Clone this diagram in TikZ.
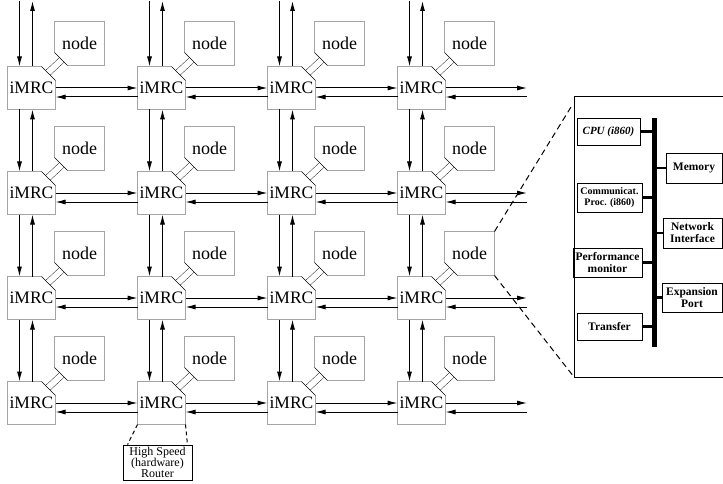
\documentclass[tikz,border=0pt]{standalone}
\usepackage{fontspec}
\setmainfont{Liberation Serif}
\usetikzlibrary{arrows.meta, backgrounds}

\begin{document}
\begin{tikzpicture}[x=1pt, y=-1pt, line width=1pt,
    >={Latex[length=10pt, width=5pt]},
    router/.style={minimum width=47, minimum height=42, inner sep=0, font=\fontsize{17.5}{17.5}\selectfont},
    cpunode/.style={minimum width=49, minimum height=43, inner sep=0, font=\fontsize{18}{18}\selectfont},
    pipe/.style={double, double distance=6pt},
    unit/.style={draw, line width=.9pt, inner sep=0, align=center, font=\fontsize{11.5}{12}\selectfont\bfseries},
    stub/.style={line width=2.5pt},
    zoom/.style={dash pattern=on 6pt off 4pt}]
    \useasboundingbox (0,0) rectangle (723,484);
    \coordinate (top) at (0,1);
    \coordinate (rim) at (527,0);

    % Routers and their nodes
    \foreach \r in {0,...,3} {
        \foreach \c in {0,...,3} {
            \node[router] (r\r\c) at ({31.5+130*\c}, {88+105*\r}) {iMRC};
            \node[cpunode] (n\r\c) at ({79.5+130*\c}, {43.5+105*\r}) {node};
        }
    }
    \begin{scope}[on background layer]
        \foreach \r in {0,...,3} \foreach \c in {0,...,3} \draw[pipe] (r\r\c.center) -- (n\r\c.center);
    \end{scope}
    \begin{scope}[on background layer]
        \foreach \r in {0,...,3} {
            \foreach \c in {0,...,3} {
                \filldraw[fill=white] (r\r\c.north west) -- ([xshift=-14]r\r\c.north east) -- ([yshift=-14]r\r\c.north east)
                    -- (r\r\c.south east) -- (r\r\c.south west) -- cycle;
                \filldraw[fill=white] (n\r\c.north west) -- (n\r\c.north east) -- (n\r\c.south east)
                    -- ([xshift=13]n\r\c.south west) -- ([yshift=13]n\r\c.south west) -- cycle;
            }
        }
    \end{scope}

    % Links
    \foreach \c in {0,...,3} {
        \draw[->] ([xshift=-12]r0\c.north |- top) -- ([xshift=-12]r0\c.north);
        \draw[->] ([xshift=1]r0\c.north) -- ([xshift=1]r0\c.north |- top);
        \foreach \r [evaluate=\r as \s using int(\r+1)] in {0,1,2} {
            \draw[->] ([xshift=-12]r\r\c.south) -- ([xshift=-12]r\s\c.north);
            \draw[->] ([xshift=1]r\s\c.north) -- ([xshift=1]r\r\c.south);
        }
    }
    \foreach \r in {0,...,3} {
        \foreach \c [evaluate=\c as \d using int(\c+1)] in {0,1,2} {
            \draw[->] (r\r\c.east) -- (r\r\d.west);
            \draw[->] ([yshift=-9]r\r\d.west) -- ([yshift=-9]r\r\c.east);
        }
        \draw[->] (r\r3.east) -- (r\r3.east -| rim);
        \draw[->] ([yshift=-9]r\r3.east -| rim) -- ([yshift=-9]r\r3.east);
    }

    % Router label
    \node[draw, line width=.9pt, minimum width=69, minimum height=35, inner sep=0, align=center,
        font=\fontsize{12}{11}\selectfont] (hsr) at (157.5,462.5) {High Speed\\(hardware)\\Router};
    \draw[dash pattern=on 4pt off 3pt] (r31.south west) -- ([xshift=5]hsr.north west);
    \draw[dash pattern=on 4pt off 3pt] (r31.south east) -- ([xshift=-5]hsr.north east);

    % Node detail
    \coordinate (pnw) at (574,97);
    \coordinate (psw) at (574,377);
    \coordinate (tip) at (571,107);
    \draw (723,97) -- (pnw) -- (psw) -- (723,377);
    \draw[zoom] (n23.north east) -- (tip);
    \draw[zoom] (n23.south east) -- (psw);

    \node[unit, minimum width=63, minimum height=27, font=\fontsize{11}{12}\selectfont\bfseries\itshape] (cpu) at (608.5,131.5) {CPU (i860)};
    \node[unit, minimum width=65, minimum height=29, font=\fontsize{10}{11}\selectfont\bfseries] (comm) at (609.5,197.5) {Communicat.\\Proc. (i860)};
    \node[unit, minimum width=69, minimum height=29] (perf) at (607.5,262.5) {Performance\\monitor};
    \node[unit, minimum width=65, minimum height=27] (xfer) at (609.5,326.5) {Transfer};
    \node[unit, minimum width=56, minimum height=30] (mem) at (694,168) {Memory};
    \node[unit, minimum width=59, minimum height=30] (net) at (692.5,233) {Network\\Interface};
    \node[unit, minimum width=60, minimum height=29] (port) at (692,297.5) {Expansion\\Port};

    % Bus
    \coordinate (bustop) at (654.5,118);
    \coordinate (busbot) at (654.5,347);
    \draw[line width=5pt] (bustop) -- (busbot);
    \foreach \u in {cpu, comm, perf, xfer} \draw[stub] (\u.east) -- (\u.east -| bustop);
    \foreach \u in {mem, net, port} \draw[stub] (\u.west) -- (\u.west -| bustop);
\end{tikzpicture}
\end{document}
